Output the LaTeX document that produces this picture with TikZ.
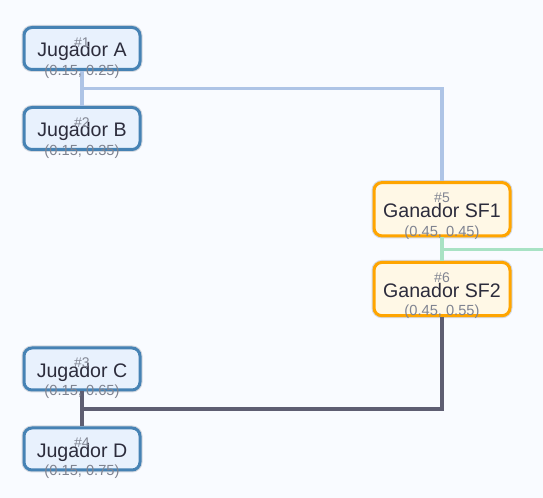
\documentclass[tikz,border=0pt]{standalone}
\usepackage{fontspec}
\setmainfont{Liberation Sans}
\usepackage{tikz}
\usetikzlibrary{positioning, calc}
\definecolor{tpage}{RGB}{249,251,255}
\definecolor{tsteel}{RGB}{70,130,180}
\definecolor{tjugfill}{RGB}{232,241,253}
\definecolor{torange}{RGB}{255,165,0}
\definecolor{tganfill}{RGB}{255,248,230}
\definecolor{thalo}{RGB}{212,216,224}
\definecolor{tink}{RGB}{44,44,60}
\definecolor{tgray}{RGB}{128,132,145}
\definecolor{tlinkab}{RGB}{174,196,230}
\definecolor{tlinksf}{RGB}{168,226,196}
\definecolor{tlinkcd}{RGB}{94,94,114}

\begin{document}
\begin{tikzpicture}[
      x=0.75pt, y=-0.75pt,
      every node/.style={font=\fontsize{14.7}{17}\selectfont, text=tink},
      node distance=26.25pt,
      jug/.style={draw=tsteel, fill=tjugfill, line width=2.25pt, rounded corners=6pt, minimum width=87pt, minimum height=31.5pt, inner sep=0pt, text height=15.5pt, text depth=3pt, preaction={draw=thalo, line width=3.75pt}},
      gan/.style={jug, draw=torange, fill=tganfill, minimum width=102pt, minimum height=40pt, text height=15pt},
      numlbl/.style={font=\fontsize{10.5}{12}\selectfont, text=tgray, inner sep=0pt},
      coordlbl/.style={font=\fontsize{11}{13}\selectfont, text=tgray, inner sep=0pt},
      linkab/.style={draw=tlinkab, line width=2.4pt},
      linksf/.style={draw=tlinksf, line width=2.4pt},
      linkcd/.style={draw=tlinkcd, line width=3pt},
  ]
    \useasboundingbox (0,0) rectangle (543,498);
    \fill[tpage] (0,0) rectangle (543,498);

    \node[jug] (ja) at (82,48.5) {Jugador A};
    \node[jug, below=of ja] (jb) {Jugador B};
    \node[jug] (jc) at (82,369) {Jugador C};
    \node[jug, below=of jc] (jd) {Jugador D};

    \node[gan] (sf1) at (442,209.25) {Ganador SF1};
    \node[gan, below=17.6pt of sf1] (sf2) {Ganador SF2};

    \coordinate (ab) at ($(ja.south)!0.5!(jb.north)$);
    \draw[linkab] (ja.south) -- (jb.north);
    \draw[linkab] (ab) -| (sf1.north);

    \coordinate (cd) at ($(jc.south)!0.5!(jd.north)$);
    \draw[linkcd] (jc.south) -- (jd.north);
    \draw[linkcd] (cd) -| (sf2.south);

    \coordinate (sfm) at ($(sf1.south)!0.5!(sf2.north)$);
    \coordinate (fin) at ($(sfm)+(101,0)$);
    \draw[linksf] (sf1.south) -- (sf2.north);
    \draw[linksf] (sfm) -- (fin);

    \node[numlbl] (ja-num) at ([yshift=4.5pt]ja.center) {\#1};
    \node[numlbl] (jb-num) at ([yshift=4.5pt]jb.center) {\#2};
    \node[numlbl] (jc-num) at ([yshift=4.5pt]jc.center) {\#3};
    \node[numlbl] (jd-num) at ([yshift=4.5pt]jd.center) {\#4};
    \node[numlbl] (sf1-num) at ([yshift=8.8pt]sf1.center) {\#5};
    \node[numlbl] (sf2-num) at ([yshift=8.8pt]sf2.center) {\#6};

    \node[coordlbl] (ja-pos) at ([yshift=-17.25pt]ja.center) {(0.15, 0.25)};
    \node[coordlbl] (jb-pos) at ([yshift=-17.25pt]jb.center) {(0.15, 0.35)};
    \node[coordlbl] (jc-pos) at ([yshift=-17.25pt]jc.center) {(0.15, 0.65)};
    \node[coordlbl] (jd-pos) at ([yshift=-17.25pt]jd.center) {(0.15, 0.75)};
    \node[coordlbl] (sf1-pos) at ([yshift=-17.25pt]sf1.center) {(0.45, 0.45)};
    \node[coordlbl] (sf2-pos) at ([yshift=-17.25pt]sf2.center) {(0.45, 0.55)};
  \end{tikzpicture}
\end{document}
